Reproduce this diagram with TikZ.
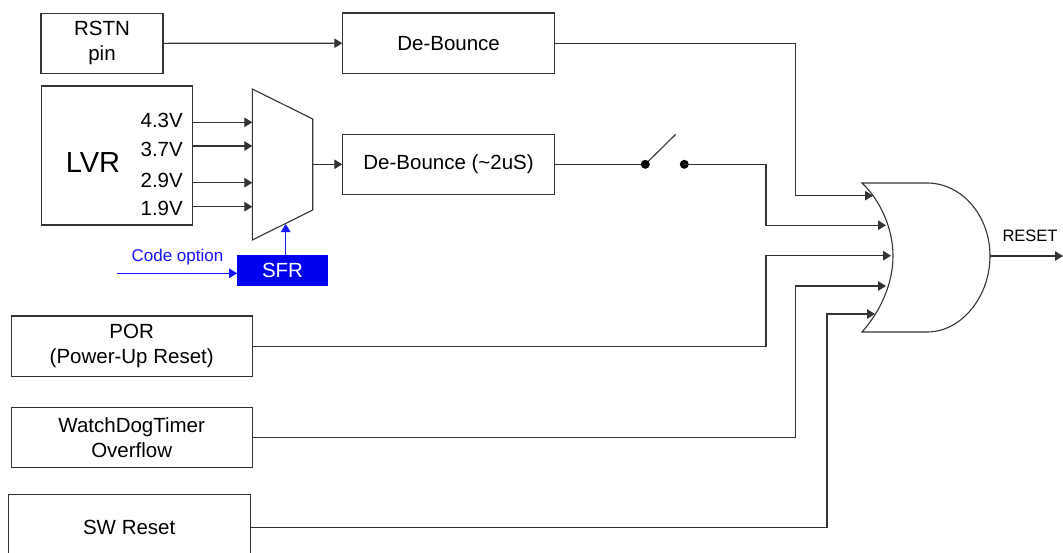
\documentclass[tikz,border=0pt]{standalone}
\usepackage{fontspec}
\setmainfont{Liberation Sans}
\usetikzlibrary{arrows.meta}
\definecolor{lc}{gray}{0.2}
\definecolor{sfrblue}{RGB}{0,0,240}
\definecolor{cblue}{RGB}{20,20,255}
\begin{document}
\begin{tikzpicture}[x=1pt,y=-1pt,
  box/.style={draw=lc, fill=white, line width=1.1pt, inner sep=0pt, align=center,
    font=\fontsize{20.5}{25}\selectfont},
  wire/.style={draw=lc, line width=1.1pt},
  arr/.style={wire, -{Triangle[length=8pt,width=9.5pt]}},
  barr/.style={draw=cblue, line width=1.1pt, -{Triangle[length=8pt,width=9.5pt]}},
  vlab/.style={anchor=east, inner sep=0pt, font=\fontsize{20.5}{24}\selectfont}]
\clip (0,0) rectangle (1063,552);
\fill[white] (0,0) rectangle (1063,552);

% boxes
\node[box, minimum width=122pt, minimum height=60pt] (rstn) at (102,43.3) {RSTN\\pin};
\node[box, minimum width=211.6pt, minimum height=60.5pt] (deb1) at (448.6,43.2) {De-Bounce};
\node[box, minimum width=151.3pt, minimum height=139pt] (lvr) at (116.7,155.5) {};
\node[inner sep=0pt, font=\fontsize{29}{30}\selectfont] (lvrt) at (93,163) {LVR};
\node[box, minimum width=211.6pt, minimum height=60pt] (deb2) at (448.6,164.4) {De-Bounce (\textasciitilde2uS)};
\node[box, minimum width=241.3pt, minimum height=60.7pt] (por) at (131.7,346.3) {POR\\(Power-Up Reset)};
\node[box, minimum width=241.3pt, minimum height=60pt] (wdt) at (131.7,437.3) {WatchDogTimer\\Overflow};
\node[box, minimum width=241.7pt, minimum height=66pt] (sw) at (129.2,527.5) {SW Reset};
\node[fill=sfrblue, text=white, inner sep=0pt, minimum width=90.4pt, minimum height=30.7pt,
  font=\fontsize{20.5}{24}\selectfont] (sfr) at (282.5,270.3) {SFR};

% voltage labels
\node[vlab] (l43) at (183,120.7) {4.3V};
\node[vlab] (l37) at (183,149) {3.7V};
\node[vlab] (l29) at (183,180) {2.9V};
\node[vlab] (l19) at (183,208.3) {1.9V};

% mux
\coordinate (mTL) at (252.3,89);
\coordinate (mTR) at (312.7,119);
\coordinate (mBR) at (312.7,210);
\coordinate (mBL) at (252.3,240);
\draw[wire, fill=white] (mTL) -- (mTR) -- (mBR) -- (mBL) -- cycle;
\coordinate (mout) at (312.7,164.3);
\coordinate (msel) at (285.7,224);
\coordinate (v1) at (252.3,122.3);
\coordinate (v2) at (252.3,146);
\coordinate (v3) at (252.3,182.7);
\coordinate (v4) at (252.3,206.7);
\draw[arr] (lvr.east |- v1) -- (v1);
\draw[arr] (lvr.east |- v2) -- (v2);
\draw[arr] (lvr.east |- v3) -- (v3);
\draw[arr] (lvr.east |- v4) -- (v4);
\draw[arr] (mout) -- (deb2.west |- mout);
\draw[arr] (rstn.east) -- (deb1.west);

% code option / SFR
\node[anchor=base, inner sep=0pt, text=cblue, font=\fontsize{17}{20}\selectfont] (cot) at (177.5,261.5) {Code option};
\coordinate (co) at (116.7,273.3);
\draw[barr] (co) -- (sfr.west |- co);
\draw[barr] (sfr.north -| msel) -- (msel);

% OR gate
\draw[wire, fill=white] (862,183) -- (927,183)
  .. controls (961.8,183) and (990,215.7) .. (990,256)
  .. controls (990,296.3) and (961.8,332) .. (927,332) -- (862,332)
  .. controls (880,312) and (893,284) .. (893,256)
  .. controls (893,228) and (880,200) .. (862,183) -- cycle;
\coordinate (in1) at (873,195.7);
\coordinate (in2) at (886,225.3);
\coordinate (in3) at (891,255.7);
\coordinate (in4) at (886,286);
\coordinate (in5) at (875,314);
\coordinate (gout) at (990,256);
\coordinate (rst) at (1063,256);
\draw[arr] (gout) -- (rst);
\node[anchor=base, inner sep=0pt, font=\fontsize{16.5}{18}\selectfont] (rsttxt) at (1030,241) {RESET};

% junction columns
\coordinate (j1) at (795.5,0);
\coordinate (j2) at (766,0);
\coordinate (j3) at (827,0);

% switch
\coordinate (s1) at (645.3,164.3);
\coordinate (s2) at (684.3,164.3);
\coordinate (slever) at (675.7,134.3);
\draw[wire] (deb2.east |- s1) -- (s1);
\draw[wire] (s1) -- (slever);
\fill[black] (s1) circle (4.5pt);
\fill[black] (s2) circle (4.5pt);

% connections to gate
\draw[arr] (deb1.east) -| (j1 |- in1) -- (in1);
\draw[arr] (s2) -| (j2 |- in2) -- (in2);
\draw[arr] (por.east) -| (j2 |- in3) -- (in3);
\draw[arr] (wdt.east) -| (j1 |- in4) -- (in4);
\draw[arr] (sw.east) -| (j3 |- in5) -- (in5);
\end{tikzpicture}
\end{document}
